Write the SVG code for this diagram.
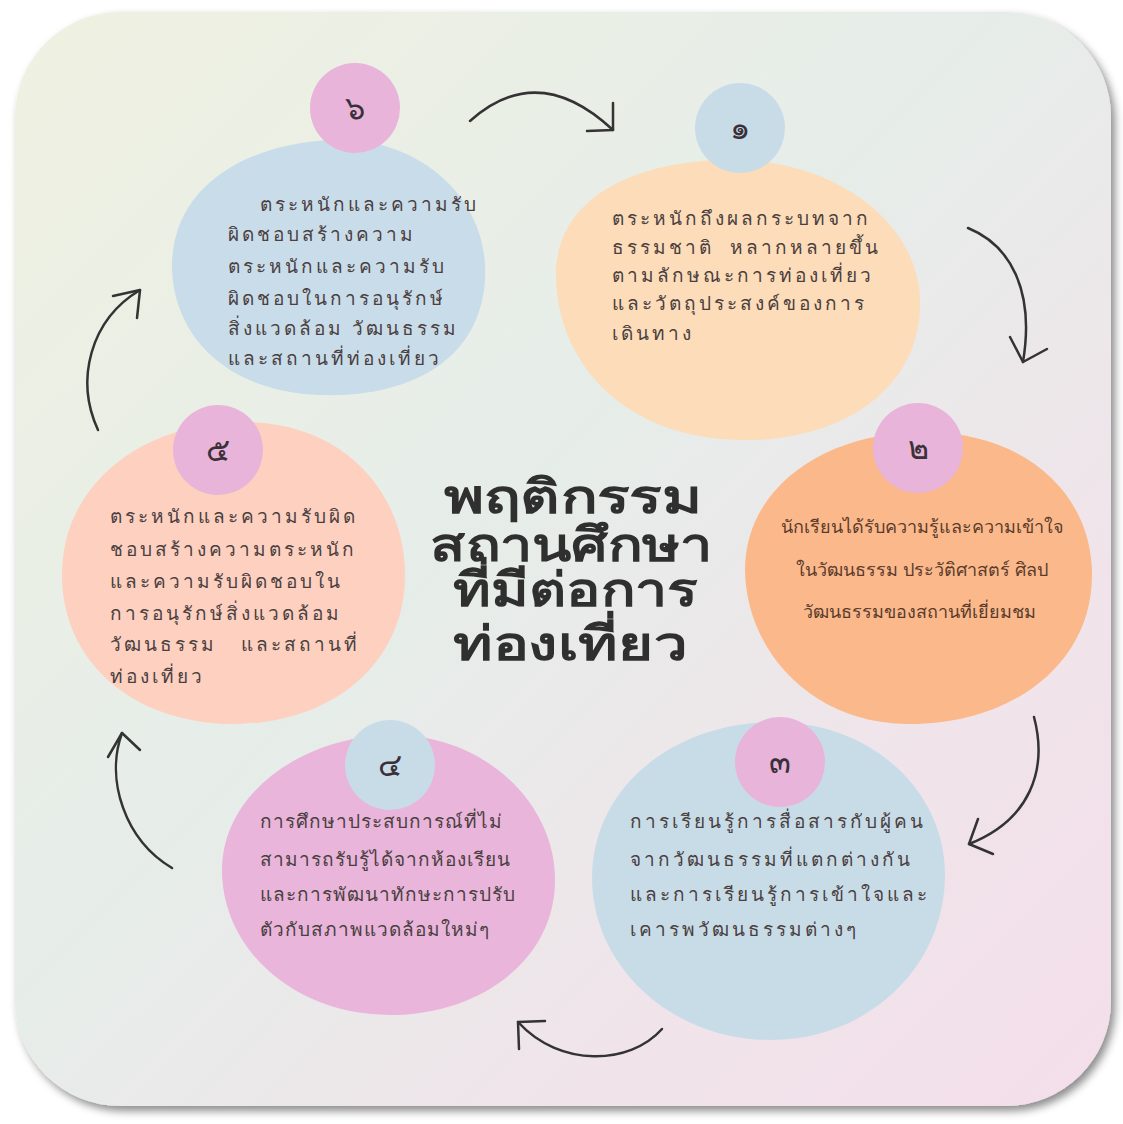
<svg xmlns="http://www.w3.org/2000/svg" width="1123" height="1124" viewBox="0 0 1123 1124">
  <defs>
    <linearGradient id="bg" x1="0" y1="0" x2="1" y2="1">
      <stop offset="0" stop-color="#eff1e1"/>
      <stop offset="0.45" stop-color="#e6ede9"/>
      <stop offset="0.75" stop-color="#f0e4ea"/>
      <stop offset="1" stop-color="#f4deea"/>
    </linearGradient>
    <filter id="shadow" x="-5%" y="-5%" width="112%" height="112%">
      <feDropShadow dx="4" dy="5" stdDeviation="4" flood-color="#000" flood-opacity="0.45"/>
    </filter>
    <style>
      .body { font-family: "Noto Sans", "DejaVu Sans", sans-serif; font-size: 19px; fill: #4a4040; letter-spacing: 3px; }
      .body4 { font-family: "Noto Sans", "DejaVu Sans", sans-serif; font-size: 19px; fill: #4a4040; letter-spacing: 1px; }
      .body2 { font-family: "Noto Sans", "DejaVu Sans", sans-serif; font-size: 18px; fill: #5a3b2c; text-anchor: middle; }
      .num { font-family: "Noto Sans", "DejaVu Sans", sans-serif; font-size: 32px; fill: #3a3038; text-anchor: middle; }
      .title { font-family: "Liberation Serif", "DejaVu Serif", serif; font-size: 47px; font-weight: bold; fill: #2f2f2f; text-anchor: middle; }
      .arc { fill: none; stroke: #333; stroke-width: 2.5; stroke-linecap: round; stroke-linejoin: round; }
      .pink { fill: #e8b4d9; }
      .blue { fill: #c8dce8; }
    </style>
  </defs>

  <rect x="0" y="0" width="1123" height="1124" fill="#ffffff"/>
  <rect id="card" x="15" y="12" width="1096" height="1094" rx="105" ry="105" fill="url(#bg)" filter="url(#shadow)"/>

  <g id="node6">
    <path d="M 330 140 C 420 135 490 200 485 280 C 480 360 410 398 320 395 C 230 392 175 340 172 270 C 170 190 240 145 330 140 Z" fill="#c9dce9"/>
    <circle class="pink" cx="355" cy="108" r="45"/>
    <text class="num" x="355" y="119">๖</text>
    <text class="body" x="260" y="211">ตระหนักและความรับ</text>
    <text class="body" x="228" y="241">ผิดชอบสร้างความ</text>
    <text class="body" x="228" y="273">ตระหนักและความรับ</text>
    <text class="body" x="228" y="305">ผิดชอบในการอนุรักษ์</text>
    <text class="body" x="228" y="335">สิ่งแวดล้อม วัฒนธรรม</text>
    <text class="body" x="228" y="365">และสถานที่ท่องเที่ยว</text>
  </g>

  <g id="node1">
    <path d="M 720 160 C 830 155 918 220 920 300 C 922 390 840 442 740 440 C 630 438 560 370 556 280 C 553 200 630 163 720 160 Z" fill="#fcdcb9"/>
    <circle class="blue" cx="740" cy="128" r="45"/>
    <text class="num" x="740" y="139">๑</text>
    <text class="body" x="612" y="225">ตระหนักถึงผลกระบทจาก</text>
    <text class="body" x="612" y="254" xml:space="preserve">ธรรมชาติ  หลากหลายขึ้น</text>
    <text class="body" x="612" y="282">ตามลักษณะการท่องเที่ยว</text>
    <text class="body" x="612" y="310">และวัตถุประสงค์ของการ</text>
    <text class="body" x="612" y="340">เดินทาง</text>
  </g>

  <g id="node2">
    <path d="M 920 432 C 1020 430 1092 490 1092 575 C 1092 665 1010 726 905 724 C 810 722 746 650 745 570 C 745 490 820 434 920 432 Z" fill="#fbb98b"/>
    <circle class="pink" cx="918" cy="448" r="45"/>
    <text class="num" x="918" y="459">๒</text>
    <text class="body2" x="922" y="533">นักเรียนได้รับความรู้และความเข้าใจ</text>
    <text class="body2" x="922" y="576">ในวัฒนธรรม ประวัติศาสตร์ ศิลป</text>
    <text class="body2" x="919" y="618">วัฒนธรรมของสถานที่เยี่ยมชม</text>
  </g>

  <g id="node5">
    <path d="M 240 422 C 340 420 405 490 405 575 C 405 665 330 725 230 724 C 130 722 62 660 62 575 C 62 485 140 424 240 422 Z" fill="#fdd0c0"/>
    <circle class="pink" cx="218" cy="450" r="45"/>
    <text class="num" x="218" y="461">๕</text>
    <text class="body" x="110" y="523">ตระหนักและความรับผิด</text>
    <text class="body" x="110" y="556">ชอบสร้างความตระหนัก</text>
    <text class="body" x="110" y="588">และความรับผิดชอบใน</text>
    <text class="body" x="110" y="620">การอนุรักษ์สิ่งแวดล้อม</text>
    <text class="body" x="110" y="651" xml:space="preserve">วัฒนธรรม   และสถานที่</text>
    <text class="body" x="110" y="683">ท่องเที่ยว</text>
  </g>

  <g id="node4">
    <path d="M 390 735 C 480 733 555 800 555 880 C 555 960 480 1015 390 1015 C 295 1015 222 950 222 870 C 222 795 300 737 390 735 Z" fill="#e9b5da"/>
    <circle class="blue" cx="390" cy="765" r="45"/>
    <text class="num" x="390" y="776">๔</text>
    <text class="body4" x="260" y="828">การศึกษาประสบการณ์ที่ไม่</text>
    <text class="body4" x="260" y="866">สามารถรับรู้ได้จากห้องเรียน</text>
    <text class="body4" x="260" y="901">และการพัฒนาทักษะการปรับ</text>
    <text class="body4" x="260" y="936">ตัวกับสภาพแวดล้อมใหม่ๆ</text>
  </g>

  <g id="node3">
    <path d="M 770 722 C 870 720 945 790 945 875 C 945 965 870 1040 770 1040 C 670 1040 592 965 592 878 C 592 790 670 724 770 722 Z" fill="#c8dce8"/>
    <circle class="pink" cx="780" cy="762" r="45"/>
    <text class="num" x="780" y="773">๓</text>
    <text class="body" x="630" y="828">การเรียนรู้การสื่อสารกับผู้คน</text>
    <text class="body" x="630" y="866">จากวัฒนธรรมที่แตกต่างกัน</text>
    <text class="body" x="630" y="901">และการเรียนรู้การเข้าใจและ</text>
    <text class="body" x="630" y="936">เคารพวัฒนธรรมต่างๆ</text>
  </g>

  <g id="title">
    <text class="title" x="573" y="513" textLength="258" lengthAdjust="spacingAndGlyphs">พฤติกรรม</text>
    <text class="title" x="571" y="561" textLength="282" lengthAdjust="spacingAndGlyphs">สถานศึกษา</text>
    <text class="title" x="575" y="606" textLength="244" lengthAdjust="spacingAndGlyphs">ที่มีต่อการ</text>
    <text class="title" x="570" y="660" textLength="234" lengthAdjust="spacingAndGlyphs">ท่องเที่ยว</text>
  </g>

  <g id="connectors">
    <path class="arc" d="M 470 121 Q 538 60 613 130"/>
    <path class="arc" d="M 613 103 L 613 130 L 587 131"/>
    <path class="arc" d="M 968 228 C 1010 245 1035 290 1023 362"/>
    <path class="arc" d="M 1010 337 L 1023 362 L 1047 349"/>
    <path class="arc" d="M 1034 717 C 1048 770 1030 820 969 844"/>
    <path class="arc" d="M 978 819 L 969 844 L 993 854"/>
    <path class="arc" d="M 662 1029 C 630 1065 560 1068 518 1022"/>
    <path class="arc" d="M 545 1021 L 518 1022 L 519 1049"/>
    <path class="arc" d="M 172 868 C 125 840 105 780 122 733"/>
    <path class="arc" d="M 108 757 L 122 733 L 140 750"/>
    <path class="arc" d="M 98 430 C 75 380 90 320 140 290"/>
    <path class="arc" d="M 113 296 L 140 290 L 137 318"/>
  </g>
</svg>
